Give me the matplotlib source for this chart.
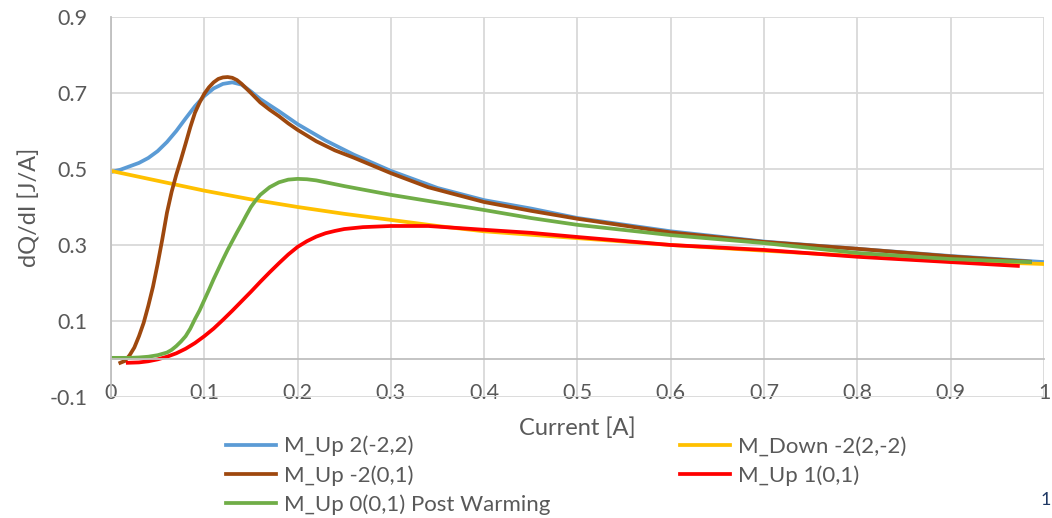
import matplotlib.pyplot as plt
import numpy as np

plt.rcParams['font.family'] = ['Lato', 'DejaVu Sans']

# M_Up 2(-2,2)
blue_x = [0, 0.01, 0.02, 0.03, 0.04, 0.05, 0.06, 0.07, 0.08, 0.09, 0.10, 0.11, 0.12, 0.13, 0.14,
          0.15, 0.16, 0.17, 0.18, 0.19, 0.20, 0.23, 0.26, 0.30, 0.35, 0.40, 0.45, 0.50, 0.60,
          0.70, 0.80, 0.90, 1.00]
blue_y = [0.492, 0.498, 0.507, 0.516, 0.529, 0.547, 0.571, 0.600, 0.633, 0.665, 0.692, 0.712,
          0.724, 0.728, 0.722, 0.704, 0.684, 0.668, 0.652, 0.635, 0.618, 0.575, 0.538, 0.495,
          0.450, 0.418, 0.396, 0.371, 0.336, 0.309, 0.290, 0.271, 0.255]
# M_Down -2(2,-2)
yel_x = [0, 0.05, 0.1, 0.15, 0.2, 0.25, 0.3, 0.35, 0.4, 0.5, 0.6, 0.7, 0.8, 0.9, 1.0]
yel_y = [0.495, 0.469, 0.443, 0.420, 0.400, 0.382, 0.366, 0.350, 0.336, 0.318, 0.300, 0.285,
         0.271, 0.258, 0.250]
# M_Up -2(0,1)
brown_x = [0.01, 0.015, 0.02, 0.025, 0.03, 0.035, 0.04, 0.045, 0.05, 0.055, 0.06, 0.065, 0.07,
           0.075, 0.08, 0.085, 0.09, 0.095, 0.10, 0.105, 0.11, 0.115, 0.12, 0.125, 0.13, 0.135,
           0.14, 0.15, 0.16, 0.17, 0.18, 0.19, 0.20, 0.22, 0.24, 0.26, 0.30, 0.34, 0.40, 0.45,
           0.50, 0.60, 0.70, 0.80, 0.90, 0.985]
brown_y = [-0.01, -0.005, 0.01, 0.03, 0.06, 0.095, 0.14, 0.19, 0.25, 0.315, 0.385, 0.44, 0.485,
           0.525, 0.567, 0.61, 0.648, 0.675, 0.698, 0.715, 0.728, 0.737, 0.741, 0.742, 0.740,
           0.734, 0.724, 0.700, 0.675, 0.656, 0.639, 0.620, 0.603, 0.573, 0.549, 0.530, 0.489,
           0.452, 0.413, 0.390, 0.369, 0.333, 0.308, 0.290, 0.270, 0.256]
# M_Up 1(0,1)
red_x = [0.018, 0.03, 0.04, 0.05, 0.06, 0.07, 0.08, 0.09, 0.10, 0.11, 0.12, 0.13, 0.14, 0.15,
         0.16, 0.17, 0.18, 0.19, 0.20, 0.21, 0.22, 0.23, 0.24, 0.25, 0.27, 0.30, 0.34, 0.40,
         0.45, 0.50, 0.60, 0.70, 0.80, 0.90, 0.972]
red_y = [-0.01, -0.009, -0.006, -0.001, 0.006, 0.015, 0.027, 0.042, 0.06, 0.08, 0.103, 0.127,
         0.152, 0.177, 0.203, 0.228, 0.252, 0.275, 0.295, 0.31, 0.322, 0.331, 0.337, 0.342,
         0.347, 0.35, 0.35, 0.34, 0.332, 0.321, 0.300, 0.287, 0.269, 0.255, 0.245]
# M_Up 0(0,1) Post Warming
green_x = [0, 0.02, 0.03, 0.04, 0.05, 0.06, 0.065, 0.07, 0.075, 0.08, 0.085, 0.09, 0.095, 0.10,
           0.105, 0.11, 0.115, 0.12, 0.125, 0.13, 0.135, 0.14, 0.145, 0.15, 0.155, 0.16, 0.17,
           0.18, 0.19, 0.20, 0.21, 0.22, 0.25, 0.30, 0.35, 0.40, 0.45, 0.50, 0.60, 0.70, 0.80,
           0.90, 0.985]
green_y = [0.003, 0.003, 0.004, 0.006, 0.01, 0.017, 0.024, 0.034, 0.046, 0.06, 0.08, 0.105,
           0.128, 0.155, 0.182, 0.21, 0.236, 0.262, 0.287, 0.31, 0.333, 0.355, 0.378, 0.40,
           0.417, 0.432, 0.452, 0.465, 0.472, 0.474, 0.473, 0.470, 0.455, 0.432, 0.412, 0.392,
           0.371, 0.353, 0.326, 0.305, 0.279, 0.263, 0.255]

fig = plt.figure(figsize=(10.52, 5.18), dpi=100)
ax = fig.add_axes([0.1055, 0.2336, 0.8869, 0.7336])

lw = 2.7
l1, = ax.plot(blue_x, blue_y, color='#5B9BD5', lw=lw, label='M_Up 2(-2,2)')
l2, = ax.plot(yel_x, yel_y, color='#FFC000', lw=lw, label='M_Down -2(2,-2)')
l3, = ax.plot(brown_x, brown_y, color='#9E480E', lw=lw, label='M_Up -2(0,1)')
l4, = ax.plot(red_x, red_y, color='#FF0000', lw=lw, label='M_Up 1(0,1)')
l5, = ax.plot(green_x, green_y, color='#70AD47', lw=lw, label='M_Up 0(0,1) Post Warming')

ax.set_xlim(0, 1)
ax.set_ylim(-0.1, 0.9)
ax.set_xticks(np.arange(0, 1.01, 0.1))
ax.set_xticklabels(['0', '0.1', '0.2', '0.3', '0.4', '0.5', '0.6', '0.7', '0.8', '0.9', '1'])
ax.set_yticks([-0.1, 0.1, 0.3, 0.5, 0.7, 0.9])
ax.set_yticklabels(['-0.1', '0.1', '0.3', '0.5', '0.7', '0.9'])
ax.grid(True, color='#D9D9D9', lw=1.3)
ax.set_axisbelow(True)
for s in ['top', 'right']:
    ax.spines[s].set_visible(False)
ax.spines['bottom'].set_position(('data', 0))
ax.spines['bottom'].set_color('#BFBFBF')
ax.spines['left'].set_color('#BFBFBF')
ax.spines['bottom'].set_linewidth(1.3)
ax.spines['left'].set_linewidth(1.3)
ax.tick_params(axis='both', length=0, labelsize=15.5, labelcolor='#595959')
ax.tick_params(axis='x', pad=17)
ax.tick_params(axis='y', pad=17)

fig.text(0.5485, 0.174, 'Current [A]', ha='center', va='center', fontsize=17, color='#595959')
fig.text(0.028, 0.60, 'dQ/dI [J/A]', ha='center', va='center', rotation=90, fontsize=17,
         color='#595959')

fig.legend([l1, l3, l5, l2, l4], [l.get_label() for l in [l1, l3, l5, l2, l4]],
           loc='upper left', bbox_to_anchor=(0.204, 0.180), ncol=2, frameon=False,
           fontsize=16, handlelength=2.25, handletextpad=0.36, columnspacing=5.85,
           labelspacing=0.38, borderpad=0, labelcolor='#595959')

fig.text(0.999, 0.035, '1', ha='right', va='center', fontsize=13, color='#1F3864')

fig.savefig('out.png', dpi=100)
